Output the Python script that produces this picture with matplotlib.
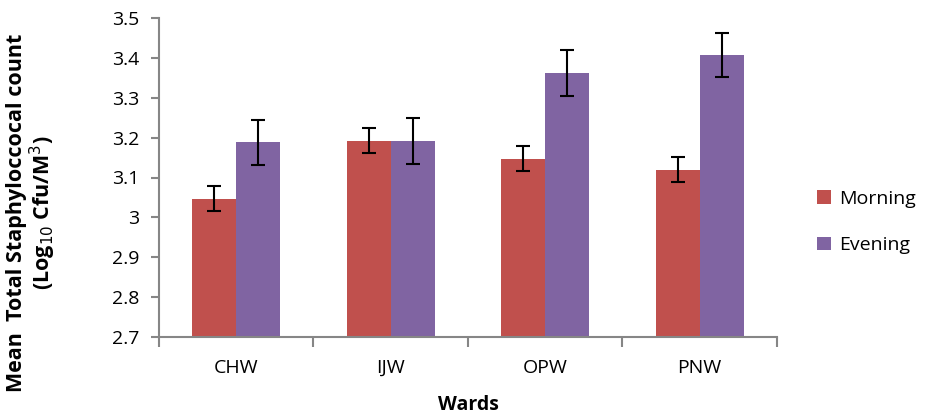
import numpy as np
import matplotlib.pyplot as plt
from matplotlib.ticker import FixedLocator, NullFormatter

wards = ["CHW", "IJW", "OPW", "PNW"]
morning = [3.047, 3.192, 3.147, 3.120]
evening = [3.188, 3.192, 3.362, 3.407]
morning_err = [0.031, 0.031, 0.031, 0.031]
evening_err = [0.056, 0.057, 0.057, 0.056]
yticks = [2.7, 2.8, 2.9, 3.0, 3.1, 3.2, 3.3, 3.4, 3.5]
ytick_labels = ["2.7", "2.8", "2.9", "3", "3.1", "3.2", "3.3", "3.4", "3.5"]

plt.rcParams['font.family'] = ['Open Sans', 'DejaVu Sans']

fig = plt.figure(figsize=(9.28, 4.17), dpi=100)
ax = fig.add_axes([159 / 928, 1 - 337 / 417, 618 / 928, 319 / 417])

x = np.arange(len(wards))
w = 0.286
err_style = dict(ecolor="black", elinewidth=1.5, capsize=5, capthick=1.5)
ax.bar(x - w / 2, morning, w, color="#C0504D", label="Morning",
       yerr=morning_err, error_kw=err_style)
ax.bar(x + w / 2, evening, w, color="#8064A2", label="Evening",
       yerr=evening_err, error_kw=err_style)

ax.set_xlim(-0.5, 3.5)
ax.set_ylim(2.7, 3.5)
ax.set_yticks(yticks)
ax.set_yticklabels(ytick_labels, fontsize=14)
ax.set_xticks(x)
ax.set_xticklabels(wards, fontsize=14)
ax.tick_params(axis="x", length=0, pad=16)
ax.xaxis.set_minor_locator(FixedLocator([-0.5, 0.5, 1.5, 2.5, 3.5]))
ax.xaxis.set_minor_formatter(NullFormatter())
ax.tick_params(axis="x", which="minor", length=7, color="#868686", width=1.5)
ax.tick_params(axis="y", length=6, color="#868686", width=1.5, pad=8)

for s in ["top", "right"]:
    ax.spines[s].set_visible(False)
for s in ["left", "bottom"]:
    ax.spines[s].set_color("#868686")
    ax.spines[s].set_linewidth(1.5)

ax.set_xlabel("Wards", fontsize=14, fontweight="bold", labelpad=13)
ax.set_ylabel("Mean  Total Staphyloccocal count\n(Log$_{10}$ Cfu/M$^3$)",
              fontsize=15.5, fontweight="bold", linespacing=1.0)
ax.yaxis.set_label_coords(-0.164, 0.39)

ax.legend(loc="center left", bbox_to_anchor=(1.037, 0.36), frameon=False,
          fontsize=14, handlelength=0.7, handleheight=0.7, labelspacing=1.45,
          handletextpad=0.4)

fig.savefig("out.png", dpi=100)
